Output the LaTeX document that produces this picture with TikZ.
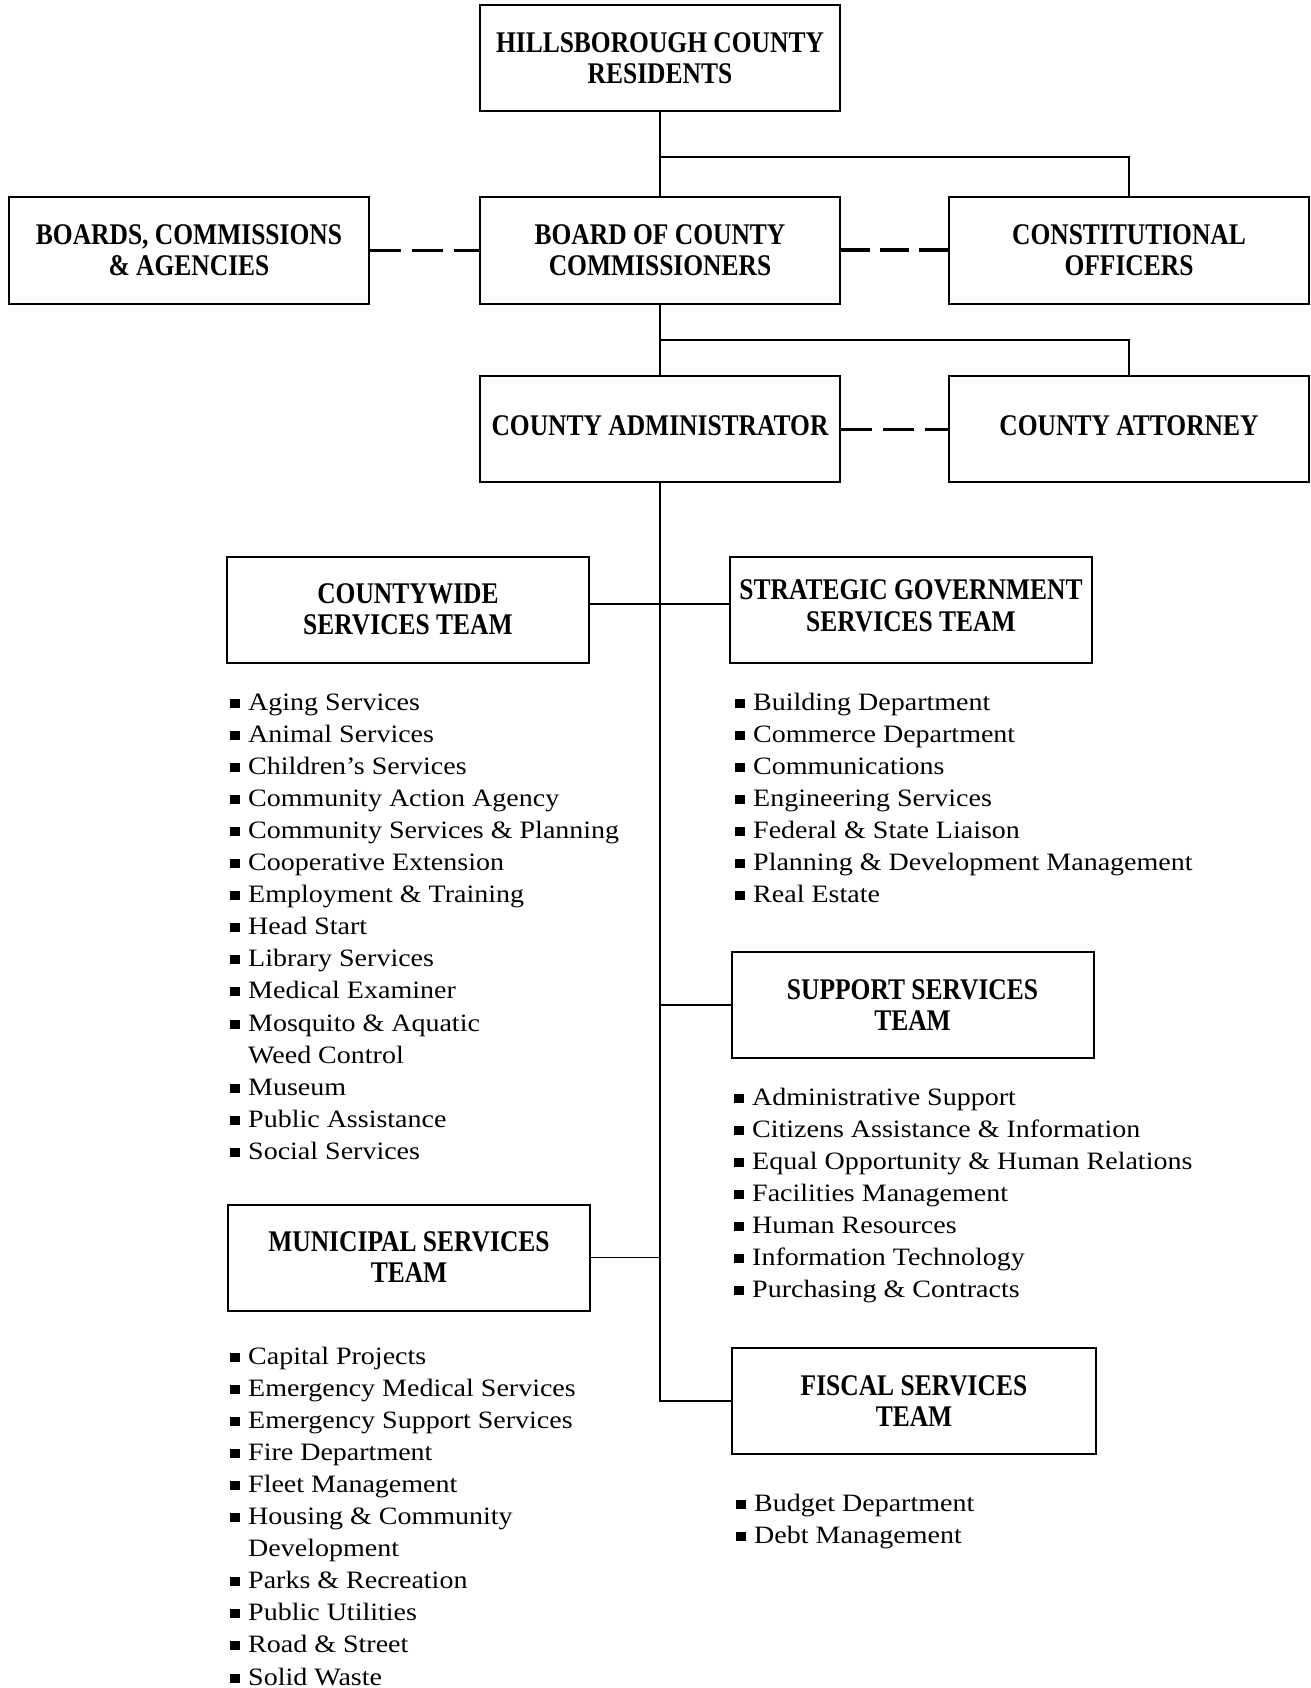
\documentclass[tikz,border=0pt]{standalone}
\usepackage{fontspec}
\setmainfont{Liberation Serif}
\newfontfamily\hdfont[FakeStretch=0.85]{Liberation Serif}
\newfontfamily\lsfont[FakeStretch=1.12]{Liberation Serif}
\newcommand\bul{\rule[2.5pt]{10pt}{9pt}\hspace{8pt}}
\newcommand\nob{\hphantom{\bul}}
\begin{document}
\begin{tikzpicture}[x=1pt,y=-1pt,
  box/.style={draw,line width=2pt,minimum width=360pt,minimum height=106pt,inner sep=0pt,align=center,
    font=\hdfont\bfseries\fontsize{30}{31}\selectfont},
  team/.style={box,minimum width=362pt},
  conn/.style={line width=1.5pt},
  dsh/.style={line width=3pt,dash pattern=on 31pt off 11pt},
  dshb/.style={line width=4pt,dash pattern=on 29pt off 10pt},
  item/.style={anchor=base west,inner sep=0pt,font=\lsfont\fontsize{25}{30}\selectfont}]
\useasboundingbox[fill=white] (0,0) rectangle (1310,1688);

% top structure
\node[box] (res) at (660,58.5) {HILLSBOROUGH COUNTY\\RESIDENTS};
\node[box] (brd) at (189,250.5) {BOARDS, COMMISSIONS\\\& AGENCIES};
\node[box] (boc) at (660,250.5) {BOARD OF COUNTY\\COMMISSIONERS};
\node[box] (con) at (1129,250.5) {CONSTITUTIONAL\\OFFICERS};
\node[box] (adm) at (660,429) {\raisebox{6pt}{COUNTY ADMINISTRATOR}};
\node[box] (att) at (1129,429) {\raisebox{6pt}{COUNTY ATTORNEY}};

\coordinate (j1) at (660,157);
\coordinate (j2) at (660,340);
\draw[conn] (res.south) -- (boc.north);
\draw[conn] (j1) -| (con.north);
\draw[conn] (boc.south) -- (adm.north);
\draw[conn] (j2) -| (att.north);
\draw[dsh] (brd.east) -- (boc.west);
\draw[dshb] (boc.east) -- (con.west);
\draw[dsh] (adm.east) -- (att.west);

% teams
\node[team] (cw) at (408,609.5) {COUNTYWIDE\\SERVICES TEAM};
\node[team] (sg) at (911,609.5) {\raisebox{4pt}{\begin{tabular}{@{}c@{}}STRATEGIC GOVERNMENT\\[1pt]SERVICES TEAM\end{tabular}}};
\node[team] (sup) at (912.5,1005) {SUPPORT SERVICES\\TEAM};
\node[team] (mun) at (409,1257.5) {MUNICIPAL SERVICES\\TEAM};
\node[team,minimum width=364pt] (fis) at (914,1401) {FISCAL SERVICES\\TEAM};

\coordinate (h1) at (0,604);
\coordinate (tb) at (adm.south |- fis.west);
\draw[conn] (adm.south) -- (tb) -- (fis.west);
\draw[conn] (cw.east |- h1) -- (sg.west |- h1);
\draw[conn] (tb |- sup.west) -- (sup.west);
\draw[conn] (mun.east) -- (tb |- mun.east);

% lists
\foreach[count=\i] \t in {{\bul Aging Services},{\bul Animal Services},{\bul Children’s Services},
  {\bul Community Action Agency},{\bul Community Services \& Planning},{\bul Cooperative Extension},
  {\bul Employment \& Training},{\bul Head Start},{\bul Library Services},{\bul Medical Examiner},
  {\bul Mosquito \& Aquatic},{\nob Weed Control},{\bul Museum},{\bul Public Assistance},{\bul Social Services}}
  \node[item] (cw\i) at (230,{710+32.1*(\i-1)}) {\t};

\foreach[count=\i] \t in {{\bul Building Department},{\bul Commerce Department},{\bul Communications},
  {\bul Engineering Services},{\bul Federal \& State Liaison},{\bul Planning \& Development Management},
  {\bul Real Estate}}
  \node[item] (sg\i) at (735,{710+32.1*(\i-1)}) {\t};

\foreach[count=\i] \t in {{\bul Administrative Support},{\bul Citizens Assistance \& Information},
  {\bul Equal Opportunity \& Human Relations},{\bul Facilities Management},{\bul Human Resources},
  {\bul Information Technology},{\bul Purchasing \& Contracts}}
  \node[item] (sp\i) at (734,{1105+32.1*(\i-1)}) {\t};

\foreach[count=\i] \t in {{\bul Capital Projects},{\bul Emergency Medical Services},{\bul Emergency Support Services},
  {\bul Fire Department},{\bul Fleet Management},{\bul Housing \& Community},{\nob Development},
  {\bul Parks \& Recreation},{\bul Public Utilities},{\bul Road \& Street},{\bul Solid Waste}}
  \node[item] (mn\i) at (230,{1364+32.1*(\i-1)}) {\t};

\foreach[count=\i] \t in {{\bul Budget Department},{\bul Debt Management}}
  \node[item] (fs\i) at (736,{1511+32.1*(\i-1)}) {\t};
\end{tikzpicture}
\end{document}
